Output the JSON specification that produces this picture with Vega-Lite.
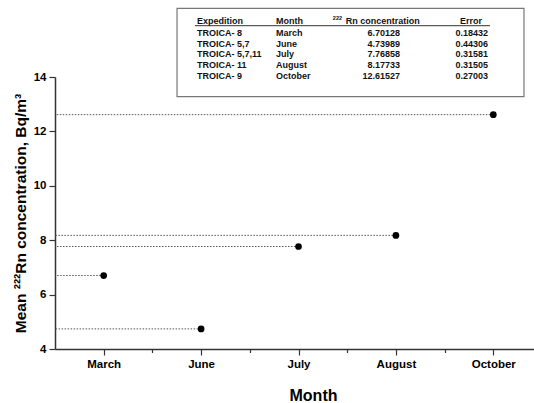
{
  "$schema": "https://vega.github.io/schema/vega-lite/v6.json",
  "width": 487,
  "height": 272,
  "autosize": {"type": "none"},
  "padding": {"left": 55, "top": 77, "right": 0, "bottom": 54},
  "background": "white",
  "config": {"view": {"stroke": null}, "font": "Liberation Sans"},
  "data": {"values": [
    {"Expedition": "TROICA- 8", "Month": "March", "Rn": 6.70128, "Error": 0.18432},
    {"Expedition": "TROICA- 5,7", "Month": "June", "Rn": 4.73989, "Error": 0.44306},
    {"Expedition": "TROICA- 5,7,11", "Month": "July", "Rn": 7.76858, "Error": 0.31581},
    {"Expedition": "TROICA- 11", "Month": "August", "Rn": 8.17733, "Error": 0.31505},
    {"Expedition": "TROICA- 9", "Month": "October", "Rn": 12.61527, "Error": 0.27003}
  ]},
  "transform": [{"window": [{"op": "row_number", "as": "n"}]}],
  "layer": [
    {
      "layer": [
        {
          "mark": {"type": "rule", "strokeDash": [1.5, 1.5], "color": "#555", "strokeWidth": 1},
          "encoding": {
            "x": {"field": "n", "type": "quantitative"},
            "x2": {"datum": 0.5},
            "y": {"field": "Rn", "type": "quantitative"}
          }
        },
        {
          "mark": {"type": "point", "filled": true, "color": "black", "opacity": 1, "size": 45},
          "encoding": {
            "x": {
              "field": "n", "type": "quantitative",
              "scale": {"domain": [0.5, 5.5], "nice": false, "zero": false},
              "axis": {
                "title": "Month",
                "values": [1, 1.5, 2, 2.5, 3, 3.5, 4, 4.5, 5],
                "labelExpr": "datum.value==1?'March':datum.value==2?'June':datum.value==3?'July':datum.value==4?'August':datum.value==5?'October':''",
                "tickSize": {"condition": {"test": "datum.value % 1 != 0", "value": 3.5}, "value": 6},
                "grid": false,
                "domainColor": "#333", "domainWidth": 1.5,
                "tickColor": "#333", "tickWidth": 1.2,
                "labelFont": "Liberation Sans", "labelFontWeight": "bold", "labelFontSize": 11.5, "labelColor": "black",
                "labelPadding": 3, "labelFlush": false, "labelOverlap": false,
                "titleFont": "Liberation Sans", "titleFontSize": 16, "titleFontWeight": "bold", "titleColor": "black",
                "titlePadding": 18, "titleX": 258
              }
            },
            "y": {
              "field": "Rn", "type": "quantitative",
              "scale": {"domain": [4, 14], "nice": false, "zero": false},
              "axis": {
                "title": "Mean ²²²Rn concentration, Bq/m³",
                "values": [4, 5, 6, 7, 8, 9, 10, 11, 12, 13, 14],
                "labelExpr": "datum.value % 2 == 0 ? datum.label : ''",
                "tickSize": {"condition": {"test": "datum.value % 2 != 0", "value": 3.5}, "value": 6},
                "grid": false,
                "domainColor": "#333", "domainWidth": 1.5,
                "tickColor": "#333", "tickWidth": 1.2,
                "labelFont": "Liberation Sans", "labelFontWeight": "bold", "labelFontSize": 11.5, "labelColor": "black",
                "labelPadding": 3, "labelFlush": false, "labelOverlap": false,
                "titleFont": "Liberation Sans", "titleFontSize": 15.5, "titleFontWeight": "bold", "titleColor": "black",
                "titlePadding": 5
              }
            }
          }
        }
      ]
    },
    {
      "layer": [
        {
          "data": {"values": [{}]},
          "mark": {"type": "rect", "fill": "white", "stroke": "#777", "strokeWidth": 1.2},
          "encoding": {
            "x": {"datum": 1.753, "type": "quantitative", "scale": {"domain": [0.5, 5.5], "nice": false, "zero": false}, "axis": null},
            "x2": {"datum": 5.315},
            "y": {"datum": -1.298, "type": "quantitative", "scale": {"domain": [5.093, 30.395], "reverse": true, "nice": false, "zero": false}, "axis": null},
            "y2": {"datum": 6.926}
          }
        },
        {
          "data": {"values": [{}]},
          "mark": {"type": "rule", "color": "#333", "strokeWidth": 1},
          "encoding": {
            "x": {"datum": 1.937, "type": "quantitative", "scale": {"domain": [0.5, 5.5], "nice": false, "zero": false}, "axis": null},
            "x2": {"datum": 4.966},
            "y": {"datum": 0.321, "type": "quantitative", "scale": {"domain": [5.093, 30.395], "reverse": true, "nice": false, "zero": false}, "axis": null}
          }
        },
        {
          "data": {"values": [{}]},
          "mark": {"type": "text", "text": "Expedition", "align": "left", "baseline": "middle", "font": "Liberation Sans", "fontSize": 9, "fontWeight": "bold", "color": "#111"},
          "encoding": {
            "x": {"datum": 1.958, "type": "quantitative", "scale": {"domain": [0.5, 5.5], "nice": false, "zero": false}, "axis": null},
            "y": {"datum": -0.116, "type": "quantitative", "scale": {"domain": [5.093, 30.395], "reverse": true, "nice": false, "zero": false}, "axis": null}
          }
        },
        {
          "data": {"values": [{}]},
          "mark": {"type": "text", "text": "Month", "align": "left", "baseline": "middle", "font": "Liberation Sans", "fontSize": 9, "fontWeight": "bold", "color": "#111"},
          "encoding": {
            "x": {"datum": 2.769, "type": "quantitative", "scale": {"domain": [0.5, 5.5], "nice": false, "zero": false}, "axis": null},
            "y": {"datum": -0.116, "type": "quantitative", "scale": {"domain": [5.093, 30.395], "reverse": true, "nice": false, "zero": false}, "axis": null}
          }
        },
        {
          "data": {"values": [{}]},
          "mark": {"type": "text", "text": "222", "align": "right", "baseline": "middle", "font": "Liberation Sans", "fontSize": 5.5, "fontWeight": "bold", "color": "#111"},
          "encoding": {
            "x": {"datum": 3.447, "type": "quantitative", "scale": {"domain": [0.5, 5.5], "nice": false, "zero": false}, "axis": null},
            "y": {"datum": -0.395, "type": "quantitative", "scale": {"domain": [5.093, 30.395], "reverse": true, "nice": false, "zero": false}, "axis": null}
          }
        },
        {
          "data": {"values": [{}]},
          "mark": {"type": "text", "text": "Rn concentration", "align": "left", "baseline": "middle", "font": "Liberation Sans", "fontSize": 9, "fontWeight": "bold", "color": "#111"},
          "encoding": {
            "x": {"datum": 3.485, "type": "quantitative", "scale": {"domain": [0.5, 5.5], "nice": false, "zero": false}, "axis": null},
            "y": {"datum": -0.116, "type": "quantitative", "scale": {"domain": [5.093, 30.395], "reverse": true, "nice": false, "zero": false}, "axis": null}
          }
        },
        {
          "data": {"values": [{}]},
          "mark": {"type": "text", "text": "Error", "align": "right", "baseline": "middle", "font": "Liberation Sans", "fontSize": 9, "fontWeight": "bold", "color": "#111"},
          "encoding": {
            "x": {"datum": 4.884, "type": "quantitative", "scale": {"domain": [0.5, 5.5], "nice": false, "zero": false}, "axis": null},
            "y": {"datum": -0.116, "type": "quantitative", "scale": {"domain": [5.093, 30.395], "reverse": true, "nice": false, "zero": false}, "axis": null}
          }
        },
        {
          "mark": {"type": "text", "align": "left", "baseline": "middle", "font": "Liberation Sans", "fontSize": 9, "fontWeight": "bold", "color": "#111"},
          "encoding": {
            "x": {"datum": 1.958, "type": "quantitative", "scale": {"domain": [0.5, 5.5], "nice": false, "zero": false}, "axis": null},
            "y": {"field": "n", "type": "quantitative", "scale": {"domain": [5.093, 30.395], "reverse": true, "nice": false, "zero": false}, "axis": null},
            "text": {"field": "Expedition", "type": "nominal"}
          }
        },
        {
          "mark": {"type": "text", "align": "left", "baseline": "middle", "font": "Liberation Sans", "fontSize": 9, "fontWeight": "bold", "color": "#111"},
          "encoding": {
            "x": {"datum": 2.769, "type": "quantitative", "scale": {"domain": [0.5, 5.5], "nice": false, "zero": false}, "axis": null},
            "y": {"field": "n", "type": "quantitative", "scale": {"domain": [5.093, 30.395], "reverse": true, "nice": false, "zero": false}, "axis": null},
            "text": {"field": "Month", "type": "nominal"}
          }
        },
        {
          "mark": {"type": "text", "align": "right", "baseline": "middle", "font": "Liberation Sans", "fontSize": 9, "fontWeight": "bold", "color": "#111"},
          "encoding": {
            "x": {"datum": 4.042, "type": "quantitative", "scale": {"domain": [0.5, 5.5], "nice": false, "zero": false}, "axis": null},
            "y": {"field": "n", "type": "quantitative", "scale": {"domain": [5.093, 30.395], "reverse": true, "nice": false, "zero": false}, "axis": null},
            "text": {"field": "Rn", "type": "nominal"}
          }
        },
        {
          "mark": {"type": "text", "align": "right", "baseline": "middle", "font": "Liberation Sans", "fontSize": 9, "fontWeight": "bold", "color": "#111"},
          "encoding": {
            "x": {"datum": 4.946, "type": "quantitative", "scale": {"domain": [0.5, 5.5], "nice": false, "zero": false}, "axis": null},
            "y": {"field": "n", "type": "quantitative", "scale": {"domain": [5.093, 30.395], "reverse": true, "nice": false, "zero": false}, "axis": null},
            "text": {"field": "Error", "type": "nominal"}
          }
        }
      ]
    }
  ],
  "resolve": {"scale": {"x": "independent", "y": "independent"}}
}
